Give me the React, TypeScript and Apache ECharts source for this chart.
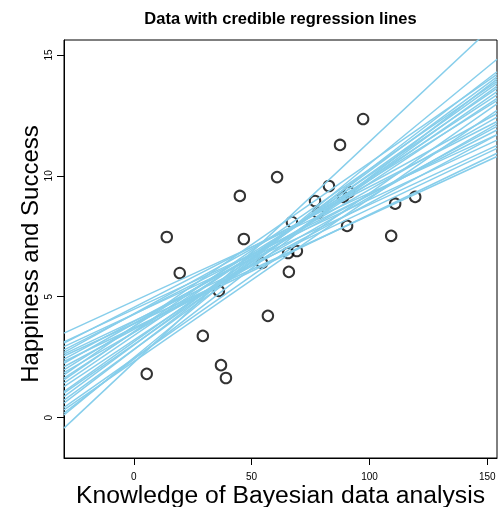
import React, { useEffect, useRef } from "react";
import * as echarts from "echarts";

// ---- data ----
const knowledge = [5.5, 14.0, 19.5, 29.3, 36.1, 37.0, 39.1, 45.0, 46.7, 54.4, 56.9, 60.8, 65.5, 69.2, 65.8, 67.1, 76.9, 78.2, 82.8, 87.5, 88.8, 91.3, 90.5, 97.3, 109.2, 110.9, 119.4];
const happiness = [1.81, 7.47, 5.98, 3.38, 5.24, 2.17, 1.64, 9.17, 7.39, 6.40, 4.21, 9.95, 6.81, 6.89, 6.03, 8.09, 8.96, 8.47, 9.58, 11.28, 9.13, 9.33, 7.93, 12.35, 7.52, 8.85, 9.13];

// credible regression lines: intercept (at x = 0) and slope
const intercepts = [4.82, 4.48, 4.56, 4.28, 4.27, 4.29, 4.00, 3.88, 3.97, 3.71, 3.89, 3.65, 3.77, 3.52, 3.77, 3.52, 3.55, 3.39, 3.20, 3.13, 3.02, 3.00, 2.82, 2.81, 2.45, 2.32, 2.41, 2.48, 2.27];
const slopes = [0.0447, 0.0454, 0.0499, 0.0453, 0.0495, 0.0538, 0.0463, 0.0449, 0.0524, 0.0469, 0.0554, 0.0522, 0.0606, 0.0560, 0.0677, 0.0638, 0.0672, 0.0664, 0.0649, 0.0694, 0.0679, 0.0720, 0.0707, 0.0746, 0.0683, 0.0674, 0.0752, 0.0801, 0.0914];

const xTicks = [0, 50, 100, 150];
const yTicks = [0, 5, 10, 15];

const TITLE = "Data with credible regression lines";
const X_NAME = "Knowledge of Bayesian data analysis";
const Y_NAME = "Happiness and Success";

const X_MIN = -29.6;
const X_MAX = 154.1;
const Y_MIN = -1.67;
const Y_MAX = 15.62;

export default function App() {
  const ref = useRef<HTMLDivElement>(null);

  useEffect(() => {
    if (!ref.current) return;
    const chart = echarts.init(ref.current, null, { renderer: "svg" });
    const font = "'Liberation Sans', Arial, Helvetica, sans-serif";

    const lineSeries = intercepts.map((b, i) => ({
      type: "line",
      data: [
        [X_MIN, b + slopes[i] * X_MIN],
        [X_MAX, b + slopes[i] * X_MAX],
      ],
      symbol: "none",
      showSymbol: false,
      lineStyle: { color: "#87CEEB", width: 1.5 },
      z: 3,
      clip: true,
      silent: true,
    }));

    chart.setOption({
      animation: false,
      graphic: [
        {
          type: "text",
          x: 280.5,
          y: 17.5,
          style: {
            text: TITLE,
            textAlign: "center",
            textVerticalAlign: "middle",
            fontSize: 16.5,
            fontWeight: "bold",
            fontFamily: font,
            fill: "#000",
          },
        },
      ],
      grid: {
        left: 64,
        top: 40,
        width: 433,
        height: 418,
        show: true,
        borderColor: "#000",
        borderWidth: 1,
        backgroundColor: "transparent",
        outerBoundsMode: "none",
        containLabel: false,
      },
      xAxis: {
        type: "value",
        min: X_MIN,
        max: X_MAX,
        name: X_NAME,
        nameLocation: "middle",
        nameGap: 24,
        nameMoveOverlap: false,
        nameTextStyle: { fontSize: 24.7, fontFamily: font, color: "#000" },
        axisLine: { show: true, onZero: false, lineStyle: { color: "#000", width: 1 } },
        axisTick: { show: true, inside: false, length: 7, customValues: xTicks, lineStyle: { color: "#000" } },
        axisLabel: { customValues: xTicks, margin: 13, fontSize: 10, color: "#000", fontFamily: font },
        splitLine: { show: false },
      },
      yAxis: {
        type: "value",
        min: Y_MIN,
        max: Y_MAX,
        name: Y_NAME,
        nameLocation: "middle",
        nameGap: 23,
        nameMoveOverlap: false,
        nameTextStyle: { fontSize: 24, fontFamily: font, color: "#000", padding: [0, 10, 0, 0] },
        axisLine: { show: true, onZero: false, lineStyle: { color: "#000", width: 1 } },
        axisTick: { show: true, inside: false, length: 7, customValues: yTicks, lineStyle: { color: "#000" } },
        axisLabel: { customValues: yTicks, rotate: 90, margin: 11, fontSize: 10, color: "#000", fontFamily: font },
        splitLine: { show: false },
      },
      series: [
        {
          type: "scatter",
          data: knowledge.map((x, i) => [x, happiness[i]]),
          symbol: "circle",
          symbolSize: 10.5,
          itemStyle: { color: "rgba(0,0,0,0)", borderColor: "#000", borderWidth: 2 },
          z: 2,
          silent: true,
        },
        ...lineSeries,
      ],
    });

    return () => chart.dispose();
  }, []);

  return (
    <div
      ref={ref}
      style={{ position: "fixed", left: 0, top: 0, width: 498, height: 507 }}
    />
  );
}
